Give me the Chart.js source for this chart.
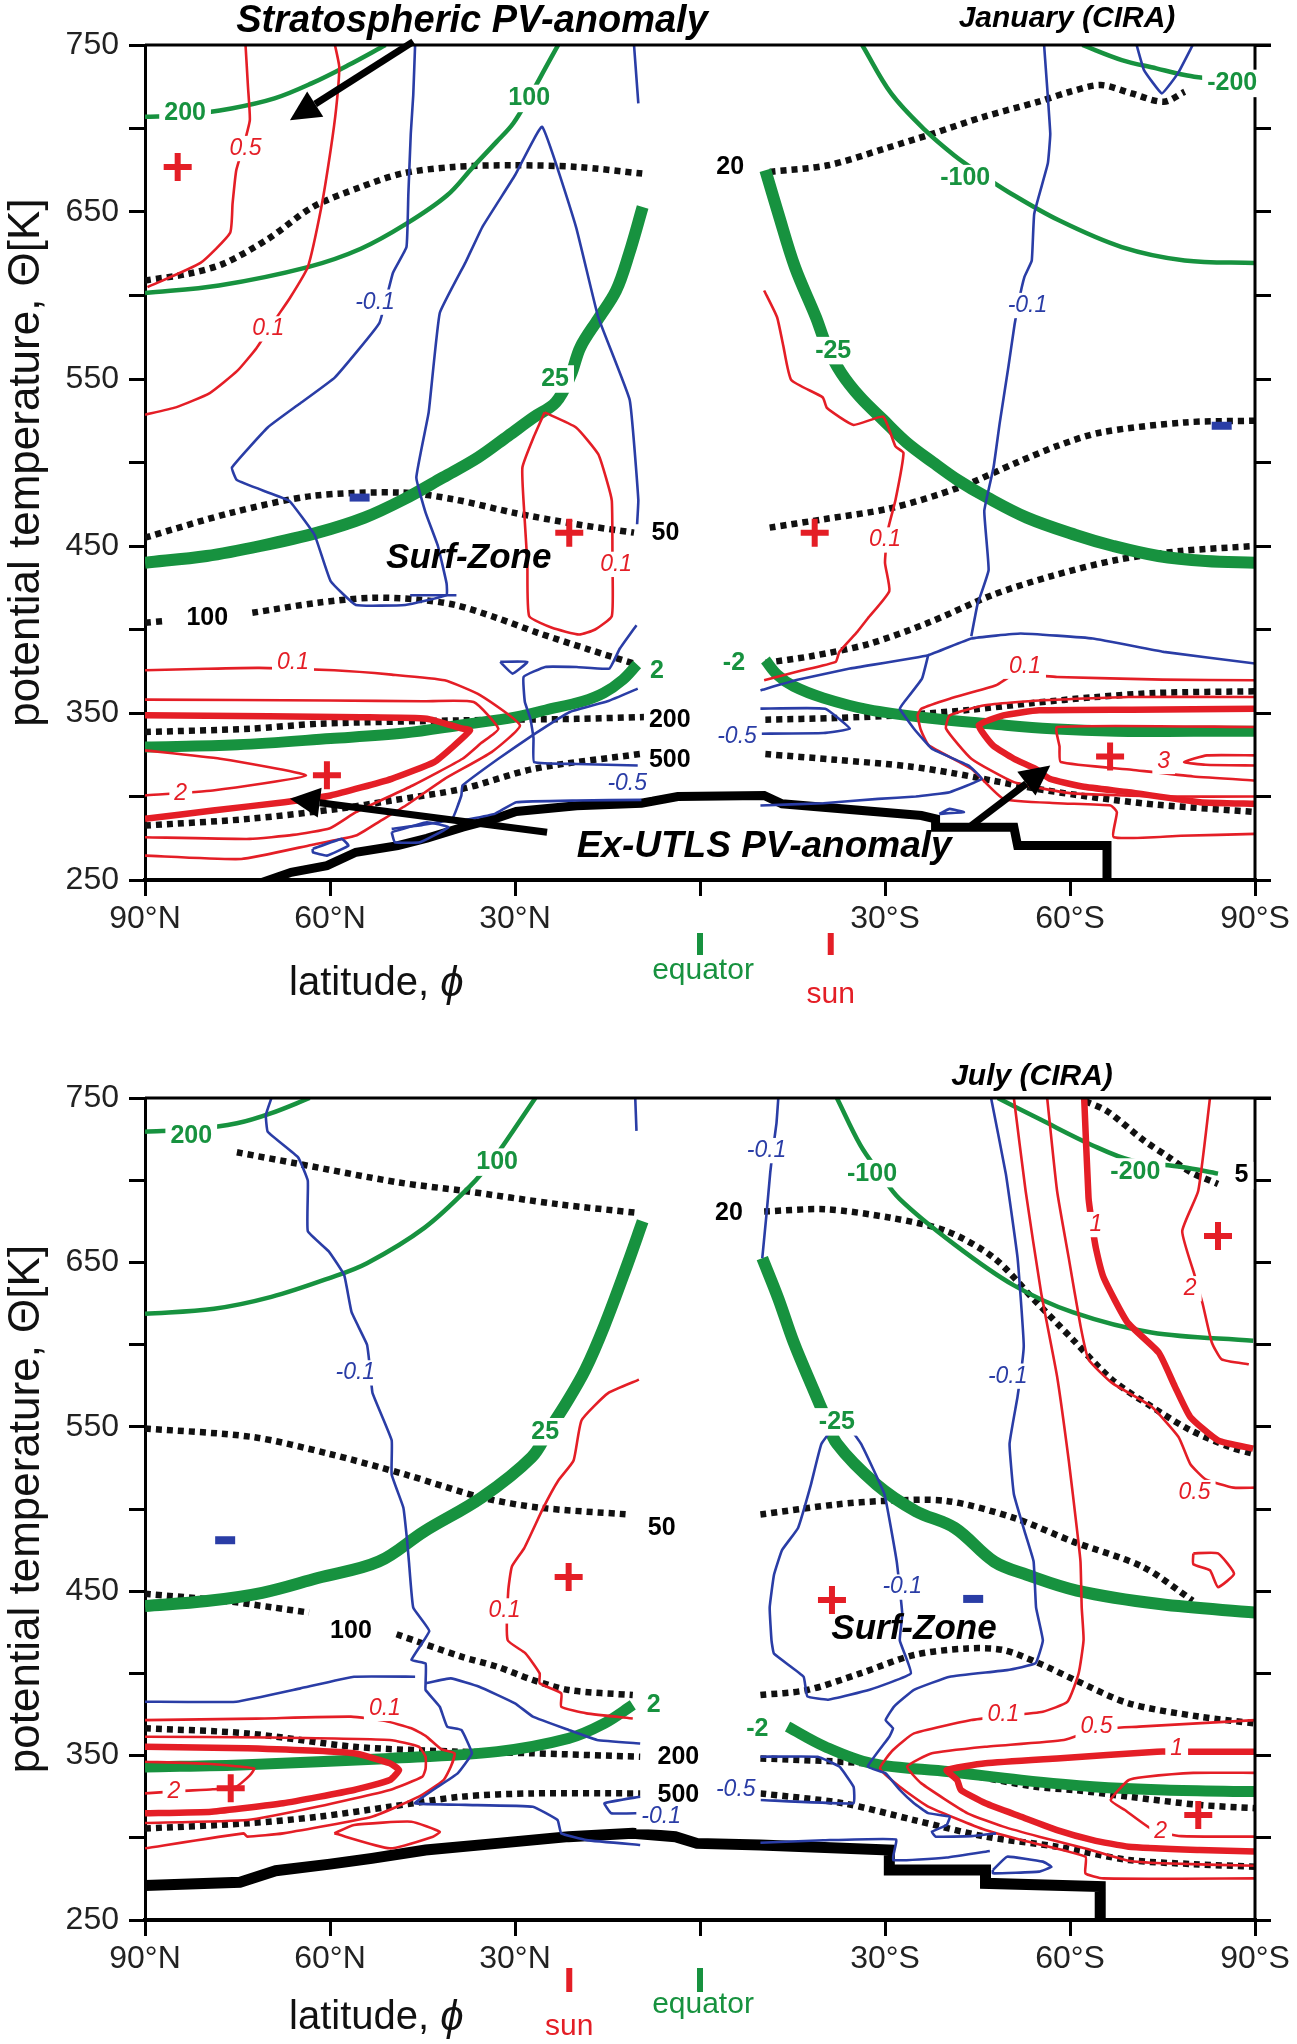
<!DOCTYPE html>
<html>
<head>
<meta charset="utf-8">
<title>PV anomalies, January and July (CIRA)</title>
<script src="https://cdn.jsdelivr.net/npm/chart.js@4.4.1/dist/chart.umd.min.js"></script>
<style>
  html, body { margin: 0; padding: 0; background: #fff; }
  #wrap { position: relative; width: 1297px; height: 2044px; }
  canvas { position: absolute; left: 0; }
</style>
</head>
<body>
<div id="wrap">
  <canvas id="jan" width="1297" height="1030" style="top:0"></canvas>
  <canvas id="jul" width="1297" height="1014" style="top:1030px"></canvas>
</div>
<script>
// axis values: latitude (north positive) and potential temperature [K]
const latTicks = [90, 60, 30, 0, -30, -60, -90];
const thetaLabels = [250, 350, 450, 550, 650, 750];
const sunLat = { jan: -21.2, jul: 21.2 };

// ---------- January (CIRA) ----------
// green contours
const janG200 = [[90,707],[84,708],[76,712],[69,718],[63,727],[57,738],[51,750]];
const janG100 = [[90,601.5],[78,606],[63.6,617],[55,628],[47.6,643],[41,660],[36.8,677],[33,692],[30.3,703],[27.5,720],[25.1,736],[23,750]];
const janG25 = [[90,440],[80,444],[71.3,450],[62,458],[54.4,467],[48,478],[41.7,491],[36,503],[31.1,516],[27,527],[23.4,536],[21,552],[19.4,569],[16.5,586],[13.6,603],[11.5,625],[9.3,653]];
const janG2 = [[90,329.6],[75,331],[59.9,334.7],[48,338],[38.4,343],[30,347.5],[25,351.8],[19,357],[15.6,362],[12.5,370],[10.2,379]];
const janGm2 = [[-10.6,381.7],[-12.5,373],[-15.2,366],[-20,359],[-27.3,352],[-37,347],[-47.4,343.4],[-57,340.5],[-67.5,339],[-80,339],[-90,339]];
const janGm25 = [[-10.6,675],[-12.7,649],[-15.4,617],[-18.8,587],[-20.5,570],[-22.9,553.6],[-26,539],[-29.7,525.5],[-33.5,512],[-37.8,500],[-42,489],[-46.6,479],[-53,467],[-60.9,456.6],[-67,450],[-74.3,444],[-82,441],[-90,440]];
const janGm100 = [[-26.3,750],[-31,721],[-36.5,699],[-41.2,684],[-45,674],[-50,662],[-58.2,645],[-68.4,629],[-78.6,621],[-90,619.5]];
const janGm200 = [[-62,750],[-68.4,741],[-74,736],[-78.6,732],[-82,730]];
// black dotted contours
const janP20n = [[90,609],[83,613],[77.3,619],[70,634],[62.8,653],[55,665],[48.4,673],[40,677],[30.3,678],[20,677],[9.3,673]];
const janP20s = [[-11.3,674],[-20.8,678],[-30,688],[-37.8,697],[-46,707],[-54.8,716],[-60,722],[-65,726],[-70,721],[-75.2,716],[-78.6,722]];
const janP50n = [[90,455],[75.9,470],[62.8,480],[48.4,482],[40,478],[30.3,470],[20,463],[10.7,458]];
const janP50s = [[-11.3,461],[-20,466],[-31,472.7],[-42,485],[-51.4,500],[-58,510],[-65,518],[-78.6,524],[-90,525]];
const janP100a = [[90,404],[87,405]];
const janP100b = [[72.6,410],[62,416],[53.2,419],[46,418],[39.7,414.7],[33,407],[26.3,398],[18,388],[10.2,379]];
const janP100s = [[-10.6,380],[-18,384],[-27.3,391.3],[-37,404],[-47.4,420.6],[-57,432],[-67.5,441.6],[-78,447],[-90,450]];
const janP200n = [[90,338.6],[73,340.6],[61.6,343.6],[38.5,345.6],[20,346.5],[9,347.6]];
const janP200s = [[-10.6,346],[-22,347],[-34,349],[-44,352],[-54,356],[-64,359.5],[-74,362],[-90,363]];
const janP500n = [[90,282.6],[73.2,286.6],[58.7,292.6],[50,297.6],[38.5,304.6],[26.9,316.6],[9.5,325.6]];
const janP500s = [[-10.6,325.4],[-22,322],[-34,318],[-41,314],[-47.4,309.5],[-54,305],[-60.9,301],[-67,298],[-74.3,295],[-90,290.7]];
const janGround = [[73,246],[66.3,254.6],[60.5,258.6],[55.8,266.6],[49,270.6],[44.3,275],[38.5,281.6],[33,287],[29.8,291],[20,294.5],[9.5,296],[3.6,300],[-10.4,300.6],[-13.3,295.6],[-35.9,288.6],[-38.2,286.6],[-38.2,281.6],[-50.9,281.6],[-51.5,270.6],[-66,270.6],[-66,244]];
// red contours
const janR05 = [[73.7,750],[73.3,725],[73,705],[74,690],[75.2,675],[75.8,655],[76.2,637.5],[81,619.5],[89.6,605]];
const janR01a = [[59.2,750],[58.5,737],[59,712],[59.9,687],[61.4,653],[63.6,617],[66.5,598.5],[69,585],[71.9,568.6],[75,555],[79.5,541.6],[85,533],[90,528.6]];
const janR01b = [[25.2,530],[20.1,521],[16.5,505],[15.1,489],[14.3,477],[14.2,440],[14.3,408],[17,400],[19.6,397],[24,401],[27.7,408],[28,440],[28.5,470],[28.8,497],[27,515],[25.2,530]];
const janR01c = [[-10.4,603],[-12.5,587],[-13.5,570],[-14.8,549.4],[-19.9,539],[-20.6,532.6],[-24.9,522.5],[-29.7,527.4],[-31.7,509.6],[-33,505.7],[-31.7,477.5],[-30.5,460],[-30,440],[-30.7,423],[-27.2,406.6],[-25.5,398.6],[-22.6,386.6],[-22,380.6],[-16,375],[-10.4,369.6]];
const janRt1 = [[90,375.6],[80,376.5],[71.5,377],[59.3,375.6],[50,373],[41.4,369.6],[35.6,360.6],[29.2,342.6],[33.8,326.6],[41.4,310.6],[47.7,294.6],[52,285],[55.8,276.6],[63,271],[74.4,262.6],[90,264.6]];
const janRt2 = [[90,358],[60,357.5],[45,357],[36.7,356.6],[32.7,340.6],[35.5,332],[38.5,322.6],[46.6,306.6],[55.8,290.6],[60,281],[66,277],[73,274.6],[90,275.6]];
const janRt3 = [[90,348.6],[70,348],[55,347.5],[44.3,346.6],[38.5,340.6],[37.3,339.6],[40,330],[43.1,320.6],[50,310.6],[59.9,300.6],[67.4,296.6],[79,291.6],[90,286.6]];
const janRt4 = [[90,327.6],[77.8,322.6],[63.9,312.6],[79,303.6],[90,300.6]];
const janRs1 = [[-90,369.6],[-75,370],[-57.9,371.6],[-50.9,373],[-48,366.6],[-40.5,358.6],[-35.9,352.6],[-35.3,348.6],[-35.8,340],[-37.1,330.6],[-44,316.6],[-49.2,298.6],[-58,296],[-66.6,294.6],[-67.6,290.6],[-67.1,275.6],[-78,276.5],[-90,277.6]];
const janRs2 = [[-90,359.6],[-69.5,359.6],[-55,357.5],[-46.2,354.6],[-40.5,348.6],[-39.9,340.6],[-44,322.6],[-50.9,308.6],[-60,302],[-75,300],[-90,300]];
const janRs3 = [[-90,352.6],[-70,352],[-55,351.6],[-49.2,348.6],[-45.2,342.6],[-47.5,330.6],[-50.9,322.6],[-54.4,316.6],[-56.7,310.6],[-62,306],[-69.5,302.6],[-81.1,296.6],[-90,295.6]];
const janRs4 = [[-90,341.6],[-57.9,341.6],[-58.3,330],[-58.5,320.6],[-70,316],[-80,312],[-90,309.6]];
const janRs5 = [[-90,324.6],[-82.2,324.6],[-78.5,320.6],[-82,319],[-90,318.6]];
// blue contours
const janB01n = [[46.2,750],[46.5,720],[46.9,697],[47.3,660],[47.6,629],[49.8,613.5],[52,583.5],[59.2,551],[65,535],[70.1,521],[75.9,497],[75.1,489.5],[70,482],[66.6,477],[62.5,456.6],[59.9,429],[55.8,414.7],[47.8,414.7],[41.1,420.6],[41.1,427.7],[42.5,450],[44.5,470],[46,491],[44,530],[42.2,589.5],[38,620],[35.3,641],[30,672],[25.6,701],[20.1,641],[16.5,587],[11.4,537.4],[10,477.5],[10.2,463]];
const janB01top = [[10.7,750],[10.3,730],[10,715]];
const janBbar = [[47,420.5],[39.5,420.5]];
const janB05n = [[10.3,402.6],[13,388.6],[14.7,376.6],[20,377.5],[25.1,377.6],[28.6,371.6],[28.4,356.6],[27.5,346.6],[27,335],[26.9,320.6],[20,319.5],[10.1,318.6]];
const janBloop1 = [[32.4,380.6],[28,380.6],[30.4,373.6],[32.4,380.6]];
const janB05n2 = [[10.1,364.6],[15,357],[21.1,350.6],[27,337],[32.7,322.6],[38.5,306.6],[38.7,300.6],[40.2,286.6],[45,283],[50,280.6]];
const janBgroundN = [[9.5,298],[20,297.6],[29.8,296.6],[33.3,289.6],[38,286]];
const janBloop2 = [[62.8,268.6],[58.1,274.6],[57,270.6],[60.5,264.6],[62.8,266.6],[62.8,268.6]];
const janBloop3 = [[50,278.6],[44.3,284.6],[40.8,281.6],[45.4,272.6],[49.5,272.6],[50,278.6]];
const janB01s = [[-55.8,750],[-56.8,697],[-56.4,679],[-54.2,649],[-53.8,621],[-52.6,611],[-51.6,595],[-51,582.3],[-50,557],[-48.6,523.6],[-47.6,497],[-46.1,471],[-46.8,435.6],[-45,415],[-44,396]];
const janB01s2 = [[-9.8,363.6],[-16,370],[-24.3,376.6],[-37,384.6],[-44,394.6],[-52,397.6],[-63.7,394.6],[-75.2,386.6],[-90,379.6]];
const janB01s3 = [[-37,384.6],[-36,370.6],[-33,356],[-32.4,352.6],[-34.7,340.6],[-37.6,328.6],[-43.5,318.6],[-45.7,310.6],[-40.5,302.6],[-35,300],[-28.9,298.6],[-20,296],[-9.8,294.6]];
const janB05s = [[-9.8,352.6],[-20.3,352.6],[-24.3,340.6],[-20,338],[-9.8,337.6]];
const janBtri = [[-38.8,289.6],[-40.5,292.6],[-42.8,290.6],[-38.8,289.6]];
const janBV = [[-70.8,750],[-72,735],[-74.9,721],[-77.5,733],[-79.9,750]];
const janPlus = [[84.7,677],[21.2,458],[-18.6,458],[60.5,312.7],[-66.5,324]];
const janMinus = [[55.2,479],[-84.6,522]];
// contour labels [text, latitude, theta]
const janGreenLabels = [['200',83.5,709],['100',27.7,718],['25',23.5,550],['2',7,375],['-2',-5.5,380],['-25',-21.6,567],['-100',-43,670],['-200',-86.3,727]];
const janBlackLabels = [['20',-4.9,677],['50',5.6,458],['100',79.9,407],['200',4.9,346],['500',4.9,322]];
const janRedLabels = [['0.5',73.7,688],['0.1',70,580],['0.1',13.6,439],['0.1',-30,453.6],['0.1',66,380],['0.1',-52.7,378],['2',84.2,302],['3',-75.2,321]];
const janBlueLabels = [['-0.1',52.7,596],['-0.1',-53.1,594],['-0.5',11.8,307.6],['-0.5',-6,336]];
const janArrows = [[[46.5,752],[66.5,705]], [[24.8,278.6],[66.5,298.6]], [[-44,282.6],[-56.8,318.6]]];

// ---------- July (CIRA) ----------
const julG200 = [[90,729.5],[82,731],[75.1,734.6],[69.5,740.8],[63.3,750]];
const julG100 = [[90,618.7],[78.8,621.8],[69.5,629],[60.2,640.3],[54,649.5],[44.7,671],[37.2,696.7],[33.5,713],[30.4,729.5],[26.7,750]];
const julG25 = [[90,441],[80,444],[71,449],[62,458],[52.1,468],[44.7,486.4],[35.4,507],[27.3,531.5],[24.5,548],[21.7,564.4],[18.6,584.8],[15.5,611.5],[11.8,648.5],[9.3,675]];
const julG2 = [[90,343],[73.5,344.5],[50.3,348.3],[32.9,352.4],[21.3,360.5],[15.5,369.6],[10.9,380.8]];
const julGm2 = [[-14.2,367.6],[-20.3,355.4],[-27.8,345.3],[-40.5,340.2],[-52.1,335.1],[-63.7,331.1],[-75.3,329.1],[-90,328.1]];
const julGm25 = [[-10.1,652.6],[-12.7,628],[-15.2,601.3],[-18.4,572.6],[-20.3,556],[-22.2,539.7],[-28.6,515],[-35,498.7],[-41.3,488.5],[-47.7,468],[-53,460],[-61.1,450.4],[-74.5,442.2],[-90,437]];
const julGm100 = [[-22.2,750],[-26,721.3],[-29,705],[-32.4,688.5],[-41.3,660.8],[-50.9,636],[-60.4,619.7],[-73.2,607.4],[-89.7,602.3]];
const julGm200 = [[-48.3,750],[-55.3,736.7],[-63.6,721.3],[-70,712],[-78.2,708],[-84,704]];
const julP20n = [[75.1,717],[65.2,710],[49,698.7],[38.5,693.6],[23,685.4],[9.9,680]];
const julP20s = [[-10.4,681],[-20.3,682.3],[-31.1,677],[-40,669],[-47.7,652.6],[-54,628],[-60.4,603.3],[-66.8,578.7],[-73.2,562.3],[-79.5,548],[-85.9,537.7],[-89.7,533.6]];
const julP5 = [[-62.5,748],[-66,742],[-71.9,724.4],[-76,714],[-79.5,705],[-84,697.7]];
const julP50n = [[90,549],[72.6,543.8],[60.2,533.6],[47.8,521],[35.4,507],[26,500.8],[11.8,496.7]];
const julP50s = [[-9.8,496.7],[-22.2,502.8],[-29.9,504.9],[-40,504.9],[-50.9,494.6],[-60.4,480.3],[-71.8,464.8],[-79.9,444.3]];
const julP100a = [[90,448.4],[77.5,444.3],[69.4,440.2],[63.4,437]];
const julP100b = [[49.2,423.8],[38.7,410.2],[32.9,404.1],[27.1,396],[21.3,389.9],[10.9,386.8]];
const julP100s = [[-9.8,386.8],[-17.4,389.9],[-26,400],[-34.7,411.2],[-43.4,415.2],[-49.2,414.2],[-55,406.1],[-60.8,396],[-69.5,381.8],[-81,373.7],[-90,369.6]];
const julP200n = [[90,366.6],[73.4,363.5],[56.1,355.4],[40,352.5],[27.1,351.4],[9.7,349.3]];
const julP200s = [[-9.8,348.3],[-26.1,345.5],[-40.9,339.8],[-54.4,331],[-60.8,329],[-69.5,325],[-81,320],[-90,318]];
const julP500n = [[90,305.7],[73.4,308.8],[61.9,312.8],[50.3,318.9],[38.7,325],[27.1,327],[9.7,327]];
const julP500s = [[-9.8,327],[-23.2,321],[-34.7,310.8],[-46.3,300.7],[-57.9,294.6],[-69.5,286.5],[-80,284],[-90,282.4]];
const julGround = [[90,271],[74.6,273],[68.8,280],[60,284],[53.2,287.5],[44.5,292.6],[32.9,296.6],[21.3,300.7],[10.9,302.7],[4,300.7],[0.5,296.6],[-9.8,295.6],[-30.7,292.6],[-30.7,280.4],[-46.3,280.4],[-46.3,272.3],[-64.9,270.3],[-64.9,245]];
const julR01n = [[9.9,578.7],[14.9,570.5],[19.2,554],[20.5,529.5],[23,517.2],[25.4,500.8],[28.5,476.2],[30.5,465],[31.1,450],[31.2,420.3],[28.3,412.2],[26,400],[26,394],[22.5,387.9],[22.5,379.7],[18.4,375.7],[10.9,372.6]];
const julRt1 = [[90,371.6],[72,372.5],[56.6,373.7],[51,371],[46.8,366.6],[44.5,362],[42,354],[39.8,351.4],[40.4,343.3],[41.6,335.1],[45.6,325],[53.2,312.8],[67.6,302.7],[73.4,300.7],[74,302.7],[90,293.6]];
const julRt2 = [[90,361.5],[70,361],[50.3,359.5],[45.6,355.4],[44.5,349.3],[44.5,342],[45,337.2],[50.3,329.1],[61.9,319],[73.4,310.8],[90,309]];
const julRt3 = [[90,355.4],[73.4,354.4],[56.1,351.4],[50.3,345.3],[48.8,341.2],[50.3,335.1],[56.1,329.1],[67.6,321],[79.2,315.9],[90,314.9]];
const julRt4 = [[90,346.3],[80,345],[72.3,342.2],[73,338],[75.2,331.1],[79,329.5],[84,328.5],[90,327]];
const julRloop = [[59.3,302.7],[56.1,307.8],[46.8,309.8],[42.2,303.7],[43.3,300.7],[50.3,293.6],[59.3,302.7]];
const julR1 = [[-50.9,750],[-52.8,693.6],[-55.3,632],[-57.9,580.8],[-59.8,529.5],[-61.1,488.5],[-61.7,468],[-61.9,440],[-62.2,420.3],[-61.4,400],[-59.6,382.8],[-55.6,376.7],[-49.2,374],[-44,371.6],[-34.7,363.5],[-31.3,353.4],[-29.2,342.2],[-32.4,331.1],[-37,319],[-46.3,304.7],[-52.1,298.6],[-62.5,288.5],[-62.5,278.4],[-65.4,275.3],[-90,275.3]];
const julR2 = [[-56.3,750],[-57.9,693.6],[-59.8,652.6],[-61.7,611.5],[-63,591],[-66.8,576.7],[-73.2,562.3],[-77.6,543.8],[-79.5,527.4],[-82,518],[-86.5,513],[-90,513]];
const julR3 = [[-62.3,750],[-63,689.5],[-63.5,675],[-64.2,658.7],[-65.5,640.3],[-69.3,613.6],[-74.4,595.1],[-77,574.6],[-79.5,556],[-84,541.8],[-89.7,536.7]];
const julR4 = [[-82.7,750],[-80.8,693.6],[-78.2,669],[-80.2,642.3],[-81.5,625],[-83,601.3],[-84.6,591],[-89,588]];
const julRb = [[-90,371.6],[-71.2,367.6],[-64.3,366],[-59,359.5],[-46.3,355.4],[-37.6,351.4],[-33.6,343.3],[-35.9,333.1],[-43.4,314.9],[-49.2,306.8],[-55,300.7],[-63,293],[-69.5,286],[-75,284.5],[-90,283]];
const julRc = [[-90,352.4],[-77.3,352.4],[-74.1,352.4],[-57.9,348.3],[-46.3,345.3],[-40,341.2],[-41.7,335.1],[-42.3,329.1],[-46.3,321],[-52.1,312.8],[-57.9,304.7],[-63.7,298.6],[-69.5,294.6],[-81,292.6],[-90,291.6]];
const julRd = [[-90,339.5],[-80,339.5],[-72,337],[-69.5,335.1],[-66.6,323],[-68.9,316.9],[-73.5,304.7],[-78,301],[-90,300.7]];
const julRloop2 = [[-80,473],[-84,473],[-86.6,460.6],[-84,452.5],[-82.7,462.7],[-80,466.4],[-80,473]];
const julB01n = [[69.5,750],[70.4,739.7],[70.1,729.5],[65.2,714],[63.6,699.7],[63.6,669],[60.2,656.7],[57.7,642.3],[56.5,619.7],[54,600],[53.5,585],[53.1,570.5],[50,541.8],[50,521],[48.1,500.8],[47.5,481],[47.2,468],[46.5,440],[43.9,425.8],[46.8,408.1],[44.5,406.1],[44.5,394],[44.5,389.9],[42.2,379.7],[41,367.6],[38.7,365.6],[37,351.4],[39.3,339.2],[43.3,329.1],[46.2,321],[38,320],[27.1,318.9],[23.1,310.8],[22.5,302.7],[18.4,298.6],[9.7,295.6]];
const julB01n2 = [[90,382.8],[75.2,382.8],[64.8,390.9],[56.1,398],[46.2,398]];
const julB01n3 = [[44.5,394],[40.4,397],[35.8,391.9],[30,381.8],[27.1,373.7],[21.3,365.6],[16.7,359.5],[9.7,357.4]];
const julB01top = [[10.5,750],[10.3,730]];
const julBsmall = [[9.7,325],[15.5,321],[14.4,315],[9.7,315]];
const julB01sTop = [[-12.7,750],[-12.4,734.6],[-11.8,718],[-11.4,705],[-10.8,680],[-10.1,652.6]];
const julB01s = [[-47.2,750],[-49.6,703.8],[-51.5,652.6],[-52.5,599.2],[-51.5,568.5],[-50.2,539.7],[-50.9,509],[-52.8,484.4],[-54.1,468],[-54.5,440],[-55.6,420],[-54.4,406.1],[-49.8,402],[-40.5,398],[-34.7,390],[-31.5,380],[-30.1,371.6],[-31.3,366.6],[-30.7,361.5],[-27.2,343.3],[-30.1,339.2],[-32.4,329.1],[-34.7,321],[-37,315],[-40.5,312.8],[-40,307.8],[-37.6,303.7],[-38.2,300.7],[-44,301],[-48,302.7]];
const julB01sLoop = [[-23,556],[-19.7,539.7],[-18,515],[-15.9,488.5],[-13.3,475],[-12,460],[-11.3,440],[-11.6,420],[-12,412],[-16.8,398],[-17.4,386],[-20.8,384],[-27.5,390],[-34.2,400],[-32.4,420],[-32.8,436],[-31.9,468],[-29.9,509],[-26.1,539.7],[-23,556]];
const julB05s = [[-9.8,349.3],[-19.1,349.3],[-22.6,343.3],[-24.9,331],[-24.9,321],[-9.8,323]];
const julBgroundS = [[-9.8,297],[-20,298.5],[-31.8,299],[-31.3,286.5],[-40,288],[-47,292]];
const julBloopS = [[-47.5,280.4],[-49.8,288.5],[-55.6,285.5],[-57,282.4],[-55,279.4],[-47.5,278.4],[-47.5,280.4]];
const julPlus = [[-84,666],[-21.4,444.7],[-80.8,313.9],[21.3,458.6],[76.1,330.1]];
const julMinus = [[77,481],[-44.3,445.3]];
const julGreenLabels = [['200',82.5,727],['100',32.9,711],['25',25.1,547],['2',7.5,380.7],['-2',-9.3,366.4],['-25',-22.2,553],['-100',-27.9,704],['-200',-70.6,705]];
const julBlackLabels = [['20',-4.7,680],['5',-87.8,702.8],['50',6.2,488.5],['100',56.6,425.8],['200',3.5,349],['500',3.5,326]];
const julRedLabels = [['0.1',51.1,378.7],['0.1',31.7,438],['2',85.3,328],['0.1',-49.2,374.7],['0.5',-64.3,367.6],['1',-77.3,354.4],['2',-74.7,303.7],['1',-64.2,673],['2',-79.5,634],['0.5',-80.2,510]];
const julBlueLabels = [['-0.1',55.9,582.8],['-0.1',-10.8,718],['-0.1',-49.9,580.8],['-0.1',-32.8,452.5],['-0.1',6.3,312.8],['-0.5',-5.8,329.1]];

// ---------- styling ----------
const GREEN = '#17923f', RED = '#e41e26', BLUE = '#2a3da6';
const FONT = "'Liberation Sans', Arial, sans-serif";

const pts = a => a.map(([x, y]) => ({ x, y }));
const base = (d, color, width, order, tension) => ({
  data: pts(d), showLine: true, pointRadius: 0, borderColor: color,
  borderWidth: width, tension, order, borderCapStyle: 'butt', borderJoinStyle: 'round'
});
const dotted = d => Object.assign(base(d, '#111', 6.5, 6, 0.3), { borderDash: [6, 5] });
const green = (d, w) => base(d, GREEN, w, 5, 0.35);
const ground = (d, w) => Object.assign(base(d, '#000', w, 4, 0), { borderJoinStyle: 'miter' });
const red = (d, w) => base(d, RED, w, 3, 0.15);
const blue = d => base(d, BLUE, 2.6, 2, 0.1);
const marks = (d, style, color, r, w) => ({
  data: pts(d), showLine: false, pointStyle: style, pointRadius: r,
  pointBorderColor: color, pointBackgroundColor: color, pointBorderWidth: w, order: 1
});

function arrow(ctx, x0, y0, x1, y1) {
  const a = Math.atan2(y1 - y0, x1 - x0), head = 30, hw = 15;
  const bx = x1 - Math.cos(a) * head, by = y1 - Math.sin(a) * head;
  ctx.strokeStyle = '#000'; ctx.lineWidth = 7; ctx.lineCap = 'butt';
  ctx.beginPath(); ctx.moveTo(x0, y0); ctx.lineTo(bx, by); ctx.stroke();
  ctx.fillStyle = '#000'; ctx.beginPath(); ctx.moveTo(x1, y1);
  ctx.lineTo(bx + Math.sin(a) * hw, by - Math.cos(a) * hw);
  ctx.lineTo(bx - Math.sin(a) * hw, by + Math.cos(a) * hw);
  ctx.closePath(); ctx.fill();
}

const annot = {
  id: 'annot',
  afterDatasetsDraw(chart, args, o) {
    const { ctx, chartArea: ca, scales: { x, y } } = chart;
    ctx.save();
    // frame top and right
    ctx.strokeStyle = '#000'; ctx.lineWidth = 3;
    ctx.beginPath(); ctx.moveTo(ca.left, ca.top); ctx.lineTo(ca.right + 16, ca.top);
    ctx.moveTo(ca.right, ca.top); ctx.lineTo(ca.right, ca.bottom); ctx.stroke();
    (o.arrows || []).forEach(([[a, b], [c, d]]) =>
      arrow(ctx, x.getPixelForValue(a), y.getPixelForValue(b), x.getPixelForValue(c), y.getPixelForValue(d)));
    ctx.textAlign = 'center'; ctx.textBaseline = 'middle';
    o.labels.forEach(g => {
      ctx.font = g.font;
      g.items.forEach(([t, lat, th]) => {
        const px = x.getPixelForValue(lat), py = y.getPixelForValue(th);
        const w = ctx.measureText(t).width;
        ctx.fillStyle = '#fff';
        ctx.fillRect(px - w / 2 - 5, py - g.size * 0.55, w + 10, g.size * 1.1);
        ctx.fillStyle = g.color;
        ctx.fillText(t, px, py);
      });
    });
    ctx.fillStyle = '#000';
    (o.dataText || []).forEach(([t, lat, th, f]) => {
      ctx.font = f; ctx.fillText(t, x.getPixelForValue(lat), y.getPixelForValue(th));
    });
    (o.pixText || []).forEach(([t, px, py, f]) => { ctx.font = f; ctx.fillText(t, px, py); });
    // equator / sun marks below the latitude axis
    const b = o.below, xe = x.getPixelForValue(0), xs = x.getPixelForValue(o.sun);
    ctx.fillStyle = GREEN; ctx.fillRect(xe - 3, ca.bottom + b.bar[0], 6, b.bar[1] - b.bar[0]);
    ctx.fillStyle = RED; ctx.fillRect(xs - 3, ca.bottom + b.bar[0], 6, b.bar[1] - b.bar[0]);
    ctx.font = `30px ${FONT}`;
    ctx.fillStyle = GREEN; ctx.fillText('equator', xe + 3, ca.bottom + b.eq);
    ctx.fillStyle = RED; ctx.fillText('sun', xs, ca.bottom + b.sun);
    ctx.fillStyle = '#111'; ctx.textAlign = 'left';
    ctx.font = `40px ${FONT}`;
    const t1 = 'latitude, ', w1 = ctx.measureText(t1).width;
    ctx.fillText(t1, 289, ca.bottom + b.title);
    ctx.font = `italic 42px ${FONT}`;
    ctx.fillText('\u03D5', 289 + w1, ca.bottom + b.title);
    ctx.restore();
  }
};

function makeChart(id, sets, cfg) {
  const tickFont = { family: FONT, size: 32 };
  return new Chart(document.getElementById(id), {
    type: 'scatter',
    data: { datasets: sets },
    options: {
      responsive: false, animation: false, devicePixelRatio: 1, events: [],
      layout: { padding: { top: cfg.top, right: 0, bottom: 0, left: 0 } },
      scales: {
        x: {
          type: 'linear', min: -90, max: 90, reverse: true,
          afterBuildTicks: s => { s.ticks = latTicks.map(v => ({ value: v })); },
          afterFit: s => { s.height = cfg.xh; },
          ticks: {
            font: tickFont, color: '#222', padding: 4, maxRotation: 0, autoSkip: false,
            callback: v => v > 0 ? v + '\u00B0N' : v < 0 ? (-v) + '\u00B0S' : ''
          },
          grid: { drawOnChartArea: false, drawTicks: true, tickLength: 16, color: '#000', lineWidth: 3 },
          border: { display: true, color: '#000', width: 4 }
        },
        y: {
          type: 'linear', min: 250, max: 750,
          afterFit: s => { s.width = 145; },
          ticks: {
            stepSize: 50, font: tickFont, color: '#222', padding: 10,
            callback: v => thetaLabels.includes(v) ? String(v) : ''
          },
          grid: { drawOnChartArea: false, drawTicks: true, tickLength: 16, color: '#000', lineWidth: 3 },
          border: { display: true, color: '#000', width: 3 },
          title: { display: true, text: 'potential temperature, \u0398[K]', font: { family: FONT, size: 44 }, color: '#111', padding: 0 }
        },
        y2: {
          type: 'linear', position: 'right', min: 250, max: 750,
          afterFit: s => { s.width = 42; },
          ticks: { stepSize: 50, callback: () => '' },
          grid: { drawOnChartArea: false, drawTicks: true, tickLength: 16, color: '#000', lineWidth: 3 },
          border: { display: false }
        }
      },
      plugins: { legend: { display: false }, tooltip: { enabled: false }, annot: cfg.annot }
    },
    plugins: [annot]
  });
}

const labelGroups = (g, k, r, b) => [
  { items: g, color: GREEN, font: `bold 25px ${FONT}`, size: 25 },
  { items: k, color: '#000', font: `bold 25px ${FONT}`, size: 25 },
  { items: r, color: RED, font: `italic 23px ${FONT}`, size: 23 },
  { items: b, color: BLUE, font: `italic 23px ${FONT}`, size: 23 }
];
const titleFont = `italic bold 37px ${FONT}`;

makeChart('jan', [
  ...[janP20n, janP20s, janP50n, janP50s, janP100a, janP100b, janP100s, janP200n, janP200s, janP500n, janP500s].map(dotted),
  green(janG200, 4.5), green(janG100, 4.5), green(janGm100, 4.5), green(janGm200, 4.5),
  green(janG25, 12), green(janGm25, 12), green(janG2, 11), green(janGm2, 11),
  ground(janGround, 9),
  ...[janR05, janR01a, janR01b, janR01c, janRt1, janRt2, janRt4, janRs1, janRs2, janRs4, janRs5].map(d => red(d, 2.6)),
  red(janRt3, 6.5), red(janRs3, 6.5),
  ...[janB01n, janB01top, janBbar, janB05n, janBloop1, janB05n2, janBgroundN, janBloop2, janBloop3, janB01s, janB01s2, janB01s3, janB05s, janBtri, janBV].map(blue),
  marks(janPlus, 'cross', RED, 14, 6), marks(janMinus, 'line', BLUE, 10, 8)
], {
  top: 45, xh: 150,
  annot: {
    sun: sunLat.jan,
    below: { bar: [53, 75], eq: 91, sun: 115, title: 104 },
    arrows: janArrows,
    labels: labelGroups(janGreenLabels, janBlackLabels, janRedLabels, janBlueLabels),
    dataText: [['Surf-Zone', 37.5, 442.7, `italic bold 35px ${FONT}`], ['Ex-UTLS PV-anomaly', -10.4, 269.8, titleFont]],
    pixText: [['Stratospheric PV-anomaly', 472, 22, `italic bold 38px ${FONT}`], ['January (CIRA)', 1067, 19, `italic bold 30px ${FONT}`]]
  }
});

makeChart('jul', [
  ...[julP20n, julP20s, julP5, julP50n, julP50s, julP100a, julP100b, julP100s, julP200n, julP200s, julP500n, julP500s].map(dotted),
  green(julG200, 4.5), green(julG100, 4.5), green(julGm100, 4.5), green(julGm200, 4.5),
  green(julG25, 12), green(julGm25, 12), green(julG2, 11), green(julGm2, 11),
  ground(julGround, 11),
  ...[julR01n, julRt1, julRt2, julRt4, julRloop, julR1, julR2, julR4, julRb, julRd, julRloop2].map(d => red(d, 2.6)),
  red(julRt3, 6.5), red(julRc, 6.5), red(julR3, 6.5),
  ...[julB01n, julB01n2, julB01n3, julB01top, julBsmall, julB01sTop, julB01s, julB01sLoop, julB05s, julBgroundS, julBloopS].map(blue),
  marks(julPlus, 'cross', RED, 14, 6), marks(julMinus, 'line', BLUE, 10, 8)
], {
  top: 68, xh: 124,
  annot: {
    sun: sunLat.jul,
    below: { bar: [48, 72], eq: 85, sun: 107, title: 98 },
    arrows: [],
    labels: labelGroups(julGreenLabels, julBlackLabels, julRedLabels, julBlueLabels),
    dataText: [['Surf-Zone', -34.7, 426.5, `italic bold 35px ${FONT}`]],
    pixText: [['July (CIRA)', 1032, 47, `italic bold 30px ${FONT}`]]
  }
});
</script>
</body>
</html>
